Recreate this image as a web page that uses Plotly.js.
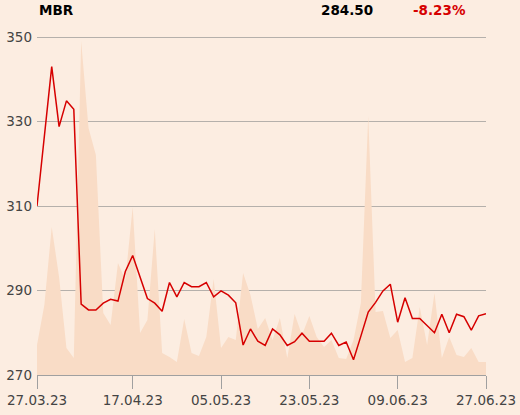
<!DOCTYPE html>
<html>
<head>
<meta charset="utf-8">
<script src="https://cdn.plot.ly/plotly-3.0.1.min.js"></script>
<style>
  html, body { margin: 0; padding: 0; background: #fcede1; }
  #chart { width: 520px; height: 415px; }
</style>
</head>
<body>
<div id="chart"></div>
<script>
const ticker = "MBR";
const dates = [
  "27.03.23","28.03.23","29.03.23","30.03.23","31.03.23",
  "03.04.23","04.04.23","05.04.23","06.04.23",
  "11.04.23","12.04.23","13.04.23","14.04.23",
  "17.04.23","18.04.23","19.04.23","20.04.23","21.04.23",
  "24.04.23","25.04.23","26.04.23","27.04.23","28.04.23",
  "02.05.23","04.05.23","05.05.23",
  "08.05.23","09.05.23","10.05.23","11.05.23","12.05.23",
  "15.05.23","16.05.23","17.05.23","18.05.23","19.05.23",
  "22.05.23","23.05.23","24.05.23","25.05.23","26.05.23",
  "29.05.23","30.05.23","31.05.23",
  "01.06.23","02.06.23",
  "05.06.23","06.06.23","07.06.23","09.06.23",
  "12.06.23","13.06.23","14.06.23","15.06.23","16.06.23",
  "19.06.23","20.06.23","21.06.23","22.06.23","23.06.23",
  "26.06.23","27.06.23"
];
const prices = [
  310.0, 326.0, 343.0, 328.8, 334.9, 332.9, 286.8, 285.4, 285.4, 287.0,
  287.9, 287.5, 294.5, 298.3, 293.1, 288.1, 287.0, 285.1, 291.9, 288.5,
  291.9, 290.9, 290.9, 291.9, 288.5, 289.9, 288.9, 287.1, 277.1, 280.9,
  278.0, 277.0, 280.9, 279.5, 277.0, 277.9, 279.9, 278.0, 278.0, 278.0,
  279.9, 277.0, 277.8, 273.6, 279.2, 284.9, 287.2, 289.9, 291.5, 282.5,
  288.3, 283.4, 283.4, 281.6, 280.0, 284.4, 280.0, 284.4, 283.8, 280.6,
  284.0, 284.5
];
const volumes = [
  3000, 7000, 14800, 9800, 2700, 1700, 33400, 24700, 22000, 6200,
  5000, 11200, 9500, 16800, 4200, 5500, 14600, 2200, 1800, 1300,
  5600, 2200, 1900, 3800, 9600, 2700, 3800, 3500, 10200, 8000,
  4600, 5700, 3500, 5700, 1700, 6100, 4000, 5900, 3800, 2800,
  3500, 1700, 1600, 3500, 7200, 25900, 6300, 6400, 3700, 4500,
  1300, 1700, 6800, 3000, 8200, 1700, 3800, 2000, 1800, 2700,
  1300, 1300
];
const tickDates = ["27.03.23","17.04.23","05.05.23","23.05.23","09.06.23","27.06.23"];
const yTicks = [270, 290, 310, 330, 350];

const last = prices[prices.length - 1];
const pct = (last / prices[0] - 1) * 100;

const font = "DejaVu Sans, sans-serif";

const traces = [
  {
    x: dates, y: volumes, yaxis: "y",
    type: "scatter", mode: "lines", fill: "tozeroy",
    line: { width: 0, color: "#f9dcc6" },
    fillcolor: "#f9dcc6",
    hoverinfo: "skip"
  },
  {
    x: dates, y: prices, yaxis: "y2",
    type: "scatter", mode: "lines",
    line: { color: "#d60000", width: 1.5 }
  }
];

const layout = {
  width: 520, height: 415,
  margin: { l: 37, r: 34, t: 36, b: 40 },
  paper_bgcolor: "#fcede1",
  plot_bgcolor: "#fcede1",
  showlegend: false,
  font: { family: font, size: 13.5, color: "#444" },
  xaxis: {
    type: "category",
    range: [0, dates.length - 1],
    tickmode: "array", tickvals: tickDates, ticktext: tickDates,
    showgrid: false, zeroline: false,
    showline: true, linecolor: "#a0a0a0", linewidth: 1,
    ticks: "outside", ticklen: 13, tickcolor: "#a0a0a0", tickwidth: 1,
    tickfont: { family: font, size: 13.5, color: "#444" },
    fixedrange: true
  },
  yaxis: {
    range: [0, 33900],
    visible: false, showgrid: false, zeroline: false, fixedrange: true
  },
  yaxis2: {
    overlaying: "y", side: "left",
    range: [270, 350.25],
    tickmode: "array", tickvals: yTicks,
    showgrid: true, gridcolor: "#b5b0ab", gridwidth: 1,
    zeroline: false, showline: false,
    ticks: "", ticklabelstandoff: 4,
    tickfont: { family: font, size: 13.5, color: "#444" },
    fixedrange: true
  },
  annotations: [
    { xref: "paper", yref: "paper", x: 0, y: 1, xanchor: "left", yanchor: "middle",
      yshift: 26, text: "<b>" + ticker + "</b>", showarrow: false,
      font: { family: font, size: 13.5, color: "#000" } },
    { xref: "paper", yref: "paper", x: 0.753, y: 1, xanchor: "right", yanchor: "middle",
      yshift: 26, text: "<b>" + last.toFixed(2) + "</b>", showarrow: false,
      font: { family: font, size: 13.5, color: "#000" } },
    { xref: "paper", yref: "paper", x: 0.96, y: 1, xanchor: "right", yanchor: "middle",
      yshift: 26, text: "<b>" + pct.toFixed(2) + "%</b>", showarrow: false,
      font: { family: font, size: 13.5, color: "#d60000" } }
  ]
};

Plotly.newPlot("chart", traces, layout, { displayModeBar: false, staticPlot: true });
</script>
</body>
</html>
